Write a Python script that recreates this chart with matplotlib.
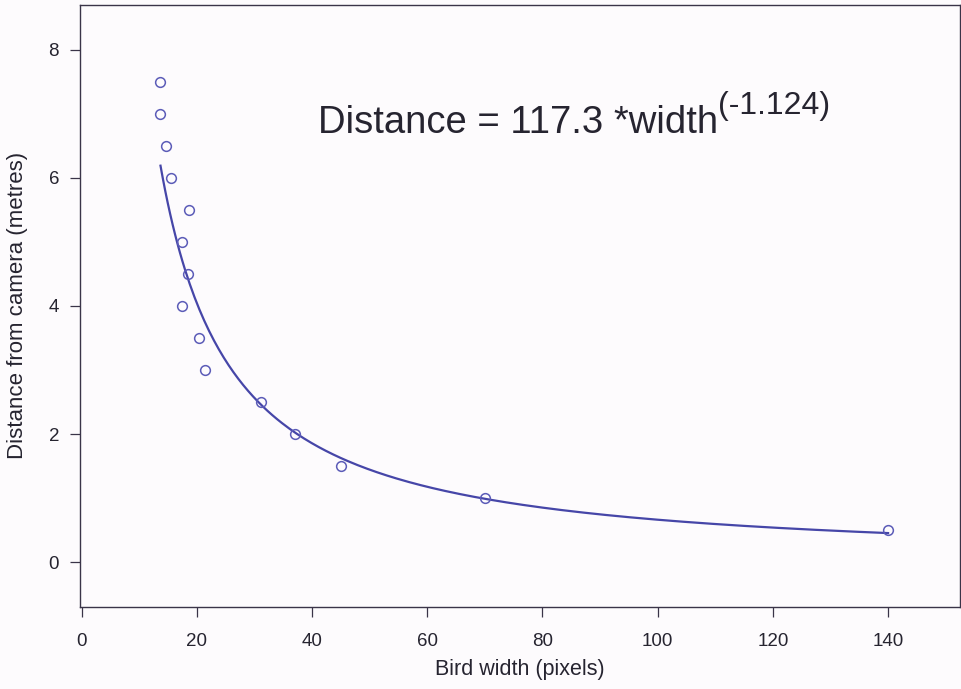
import matplotlib
matplotlib.use("Agg")
import matplotlib.pyplot as plt
import numpy as np

plt.rcParams["font.family"] = ["Liberation Sans", "DejaVu Sans"]

# observed bird widths (pixels) and distances (metres)
bird_width = [13.7, 13.7, 14.6, 15.6, 18.6, 17.5, 18.4, 17.4, 20.3, 21.4,
              31.2, 37.0, 45.0, 70.0, 140.0]
distance = [7.5, 7.0, 6.5, 6.0, 5.5, 5.0, 4.5, 4.0, 3.5, 3.0,
            2.5, 2.0, 1.5, 1.0, 0.5]

# fitted power model shown on the chart
coef_a = 117.3
coef_b = -1.124

x_ticks = [0, 20, 40, 60, 80, 100, 120, 140]
y_ticks = [0, 2, 4, 6, 8]

point_col = "#5c5cb8"
line_col = "#4646a8"
axis_col = "#3a3448"
text_col = "#262430"

fig = plt.figure(figsize=(9.62, 6.89), dpi=100)
fig.patch.set_facecolor("#fdfbfd")
ax = fig.add_axes([0.083, 0.119, 0.915, 0.874])
ax.set_facecolor("#fdfbfd")

xs = np.linspace(min(bird_width), max(bird_width), 300)
ax.plot(xs, coef_a * xs ** coef_b, color=line_col, lw=1.6, zorder=2)
ax.plot(bird_width, distance, 'o', mfc='none', mec=point_col, ms=7, mew=1.1, zorder=3)

ax.set_xlim(-0.3, 152.5)
ax.set_ylim(-0.7, 8.7)
ax.set_xticks(x_ticks)
ax.set_yticks(y_ticks)

for s in ax.spines.values():
    s.set_color(axis_col)
    s.set_linewidth(1.0)
ax.tick_params(colors=axis_col, labelcolor=text_col, length=7, width=0.9,
               labelsize=13.5, pad=8)
ax.tick_params(axis='x', pad=12)

ax.set_xlabel("Bird width (pixels)", fontsize=15.5, color=text_col, labelpad=6)
ax.set_ylabel("Distance from camera (metres)", fontsize=16, color=text_col, labelpad=15)

# equation label: main part plus raised exponent
main = ax.text(41, 6.7, "Distance = 117.3 *width", fontsize=27.5,
               color=text_col, ha="left", va="baseline")
ax.annotate("(-1.124)", xy=(1.0, 0.74), xycoords=main, fontsize=23,
            color=text_col, ha="left", va="baseline")

fig.savefig("out.png", dpi=100, facecolor=fig.get_facecolor())
